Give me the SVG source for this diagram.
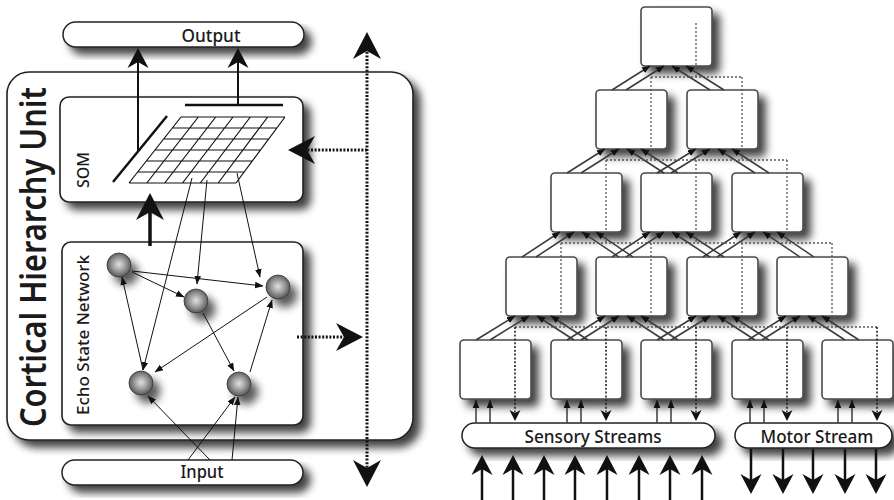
<svg xmlns="http://www.w3.org/2000/svg" width="894" height="500" viewBox="0 0 894 500">
  <defs>
    <filter id="shadow" x="-20%" y="-20%" width="150%" height="170%">
      <feGaussianBlur in="SourceAlpha" stdDeviation="4.5"/>
      <feOffset dx="7" dy="7" result="off"/>
      <feComponentTransfer><feFuncA type="linear" slope="0.75"/></feComponentTransfer>
      <feMerge><feMergeNode/><feMergeNode in="SourceGraphic"/></feMerge>
    </filter>
    <filter id="shadow-ball" x="-60%" y="-60%" width="280%" height="280%">
      <feGaussianBlur in="SourceAlpha" stdDeviation="4.5"/>
      <feOffset dx="7" dy="8" result="off"/>
      <feComponentTransfer><feFuncA type="linear" slope="0.65"/></feComponentTransfer>
      <feMerge><feMergeNode/><feMergeNode in="SourceGraphic"/></feMerge>
    </filter>
    <radialGradient id="ball" cx="50%" cy="48%" r="55%">
      <stop offset="0" stop-color="#e0e0e0"/>
      <stop offset="0.5" stop-color="#9c9c9c"/>
      <stop offset="1" stop-color="#4e4e4e"/>
    </radialGradient>
    <marker id="ah-s" markerUnits="userSpaceOnUse" markerWidth="10" markerHeight="8" viewBox="0 -4 10 8" refX="8" refY="0" orient="auto">
      <path d="M0,-3.3 L8.5,0 L0,3.3 Z" fill="#111"/>
    </marker>
    <marker id="ah-d" markerUnits="userSpaceOnUse" markerWidth="12" markerHeight="12" viewBox="0 -6 12 12" refX="7" refY="0" orient="auto">
      <path d="M0,-5.5 L11,0 L0,5.5 L3,0 Z" fill="#111"/>
    </marker>
    <marker id="ah-m" markerUnits="userSpaceOnUse" markerWidth="24" markerHeight="24" viewBox="0 -12 24 24" refX="13" refY="0" orient="auto">
      <path d="M0,-10.5 L20,0 L0,10.5 L6,0 Z" fill="#111"/>
    </marker>
    <marker id="ah-l" markerUnits="userSpaceOnUse" markerWidth="28" markerHeight="30" viewBox="0 -15 28 30" refX="18" refY="0" orient="auto-start-reverse">
      <path d="M0,-14 L27,0 L0,14 L8,0 Z" fill="#111"/>
    </marker>
    <style>
      .txt { font-family: "Noto Sans", "Liberation Sans", sans-serif; fill: #1a1a1a; }
      .frame { fill: #fff; stroke: #222; stroke-width: 1.6; }
      .pill { fill: #fff; stroke: #222; stroke-width: 1.5; }
      .box { fill: #fff; stroke: #4a4a4a; stroke-width: 1.6; }
      .grid { fill: none; stroke: #111; stroke-width: 1.2; }
      .bar { stroke: #111; stroke-width: 2.5; }
      .out { stroke: #111; stroke-width: 2; marker-end: url(#ah-m); }
      .thin { stroke: #111; stroke-width: 1; marker-end: url(#ah-s); }
      .fbl { fill: none; stroke: #111; stroke-width: 3; stroke-dasharray: 2 1.6; }
      .up { stroke: #3a3a3a; stroke-width: 1.5; marker-end: url(#ah-s); }
      .fb { fill: none; stroke: #555; stroke-width: 1.3; stroke-dasharray: 2 2; }
      .fbd { fill: none; stroke: #222; stroke-width: 1.6; stroke-dasharray: 2 1.8; marker-end: url(#ah-d); }
      .stream { stroke: #111; stroke-width: 2.5; marker-end: url(#ah-m); }
    </style>
  </defs>

  <!-- ===== Left: cortical hierarchy unit ===== -->
  <g id="output">
    <rect class="pill" x="63" y="22" width="241" height="25" rx="12.5" filter="url(#shadow)"/>
    <text class="txt" x="211" y="42" font-size="18" font-weight="500" text-anchor="middle" textLength="59" lengthAdjust="spacingAndGlyphs">Output</text>
  </g>

  <g id="unit">
    <rect class="frame" x="7" y="72" width="406" height="368" rx="22" filter="url(#shadow)"/>
    <text class="txt" transform="translate(46,257) rotate(-90)" font-size="36" font-weight="600" text-anchor="middle" textLength="340" lengthAdjust="spacingAndGlyphs">Cortical Hierarchy Unit</text>
  </g>

  <g id="som">
    <rect class="frame" x="60" y="97" width="243" height="105" rx="9" filter="url(#shadow)"/>
    <text class="txt" transform="translate(89,170) rotate(-90)" font-size="17" font-weight="500" text-anchor="middle" textLength="36" lengthAdjust="spacingAndGlyphs">SOM</text>
    <!-- 6x6 map, skewed -->
    <path class="grid" d="M181,117 H285 M172.3,128 H276.8 M163.7,139 H268.7 M155,150 H260.5 M146.3,161 H252.3 M137.7,172 H244.2 M129,183 H236
      M181,117 L129,183 M198.3,117 L146.8,183 M215.7,117 L164.7,183 M233,117 L182.5,183 M250.3,117 L200.3,183 M267.7,117 L218.2,183 M285,117 L236,183"/>
    <line class="bar" x1="113" y1="182" x2="167" y2="116"/>
    <line class="bar" x1="185" y1="105" x2="283" y2="105"/>
  </g>

  <g id="esn">
    <rect class="frame" x="62" y="242" width="241" height="183" rx="9" filter="url(#shadow)"/>
    <text class="txt" transform="translate(89,335) rotate(-90)" font-size="17" font-weight="500" text-anchor="middle" textLength="160" lengthAdjust="spacingAndGlyphs">Echo State Network</text>
  </g>

  <g id="esn-n1"><circle cx="119" cy="265" r="12" fill="url(#ball)" stroke="#333" stroke-width="0.8" filter="url(#shadow-ball)"/></g>
  <g id="esn-n2"><circle cx="196" cy="301" r="12" fill="url(#ball)" stroke="#333" stroke-width="0.8" filter="url(#shadow-ball)"/></g>
  <g id="esn-n3"><circle cx="278" cy="287" r="12" fill="url(#ball)" stroke="#333" stroke-width="0.8" filter="url(#shadow-ball)"/></g>
  <g id="esn-n4"><circle cx="141" cy="383" r="12" fill="url(#ball)" stroke="#333" stroke-width="0.8" filter="url(#shadow-ball)"/></g>
  <g id="esn-n5"><circle cx="239" cy="384" r="12" fill="url(#ball)" stroke="#333" stroke-width="0.8" filter="url(#shadow-ball)"/></g>

  <g id="input">
    <rect class="pill" x="62" y="460" width="241" height="25" rx="12.5" filter="url(#shadow)"/>
    <text class="txt" x="202" y="478" font-size="18" font-weight="500" text-anchor="middle" textLength="43" lengthAdjust="spacingAndGlyphs">Input</text>
  </g>

  <g id="unit-connectors">
    <!-- map outputs -->
    <line class="out" x1="138" y1="151" x2="138" y2="55"/>
    <line class="out" x1="238" y1="105" x2="238" y2="55"/>
    <!-- reservoir state into the map -->
    <line x1="150" y1="246" x2="150" y2="202" stroke="#111" stroke-width="3.5" marker-end="url(#ah-l)"/>
    <!-- map feedback into the reservoir -->
    <line class="thin" x1="192" y1="178" x2="143" y2="370"/>
    <line class="thin" x1="207" y1="180" x2="197" y2="284"/>
    <line class="thin" x1="237" y1="173" x2="260" y2="277"/>
    <!-- reservoir recurrences -->
    <line class="thin" x1="132" y1="271" x2="263" y2="286"/>
    <line class="thin" x1="132" y1="272" x2="184" y2="297"/>
    <line class="thin" x1="143" y1="370" x2="122" y2="277"/>
    <line class="thin" x1="267" y1="297" x2="155" y2="372"/>
    <line class="thin" x1="203" y1="313" x2="234" y2="371"/>
    <line class="thin" x1="250" y1="372" x2="272" y2="300"/>
    <!-- input drive -->
    <line class="thin" x1="210" y1="460" x2="148" y2="396"/>
    <line class="thin" x1="188" y1="460" x2="235" y2="397"/>
    <line class="thin" x1="232" y1="460" x2="238" y2="397"/>
    <!-- hierarchy up / down channel -->
    <path class="fbl" d="M367,41 V478" marker-start="url(#ah-l)" marker-end="url(#ah-l)"/>
    <path class="fbl" d="M367,150 H297" marker-end="url(#ah-l)"/>
    <path class="fbl" d="M297,337 H354" marker-end="url(#ah-l)"/>
  </g>

  <!-- ===== Right: hierarchy of units ===== -->
  <g id="r0-0"><rect class="box" x="641" y="7" width="71" height="59" rx="4" filter="url(#shadow)"/></g>
  <g id="r1-0"><rect class="box" x="596" y="90" width="71" height="59" rx="4" filter="url(#shadow)"/></g>
  <g id="r1-1"><rect class="box" x="687" y="90" width="71" height="59" rx="4" filter="url(#shadow)"/></g>
  <g id="r2-0"><rect class="box" x="551" y="173" width="71" height="59" rx="4" filter="url(#shadow)"/></g>
  <g id="r2-1"><rect class="box" x="641" y="173" width="71" height="59" rx="4" filter="url(#shadow)"/></g>
  <g id="r2-2"><rect class="box" x="732" y="173" width="71" height="59" rx="4" filter="url(#shadow)"/></g>
  <g id="r3-0"><rect class="box" x="506" y="257" width="71" height="59" rx="4" filter="url(#shadow)"/></g>
  <g id="r3-1"><rect class="box" x="596" y="257" width="71" height="59" rx="4" filter="url(#shadow)"/></g>
  <g id="r3-2"><rect class="box" x="687" y="257" width="71" height="59" rx="4" filter="url(#shadow)"/></g>
  <g id="r3-3"><rect class="box" x="777" y="257" width="71" height="59" rx="4" filter="url(#shadow)"/></g>
  <g id="r4-0"><rect class="box" x="460" y="340" width="71" height="59" rx="4" filter="url(#shadow)"/></g>
  <g id="r4-1"><rect class="box" x="551" y="340" width="71" height="59" rx="4" filter="url(#shadow)"/></g>
  <g id="r4-2"><rect class="box" x="641" y="340" width="71" height="59" rx="4" filter="url(#shadow)"/></g>
  <g id="r4-3"><rect class="box" x="732" y="340" width="71" height="59" rx="4" filter="url(#shadow)"/></g>
  <g id="r4-4"><rect class="box" x="822" y="340" width="71" height="59" rx="4" filter="url(#shadow)"/></g>

  <g id="sensory-streams">
    <rect class="pill" x="462" y="423" width="253" height="25" rx="12.5" filter="url(#shadow)"/>
    <text class="txt" x="593" y="443" font-size="18" font-weight="500" text-anchor="middle" textLength="137" lengthAdjust="spacingAndGlyphs">Sensory Streams</text>
  </g>
  <g id="motor-stream">
    <rect class="pill" x="735" y="423" width="157" height="25" rx="12.5" filter="url(#shadow)"/>
    <text class="txt" x="817" y="443" font-size="18" font-weight="500" text-anchor="middle" textLength="113" lengthAdjust="spacingAndGlyphs">Motor Stream</text>
  </g>

  <g id="hierarchy-connectors">
    <!-- bottom-up -->
    <line class="up" x1="612" y1="90" x2="650" y2="66"/><line class="up" x1="626" y1="90" x2="664" y2="66"/>
    <line class="up" x1="710" y1="90" x2="672" y2="66"/><line class="up" x1="724" y1="90" x2="686" y2="66"/>

    <line class="up" x1="567" y1="173" x2="605" y2="149"/><line class="up" x1="581" y1="173" x2="619" y2="149"/>
    <line class="up" x1="664" y1="173" x2="627" y2="149"/><line class="up" x1="678" y1="173" x2="641" y2="149"/>
    <line class="up" x1="657" y1="173" x2="696" y2="149"/><line class="up" x1="671" y1="173" x2="710" y2="149"/>
    <line class="up" x1="755" y1="173" x2="718" y2="149"/><line class="up" x1="769" y1="173" x2="732" y2="149"/>

    <line class="up" x1="522" y1="257" x2="560" y2="232"/><line class="up" x1="536" y1="257" x2="574" y2="232"/>
    <line class="up" x1="619" y1="257" x2="582" y2="232"/><line class="up" x1="633" y1="257" x2="596" y2="232"/>
    <line class="up" x1="612" y1="257" x2="650" y2="232"/><line class="up" x1="626" y1="257" x2="664" y2="232"/>
    <line class="up" x1="710" y1="257" x2="672" y2="232"/><line class="up" x1="724" y1="257" x2="686" y2="232"/>
    <line class="up" x1="703" y1="257" x2="741" y2="232"/><line class="up" x1="717" y1="257" x2="755" y2="232"/>
    <line class="up" x1="800" y1="257" x2="763" y2="232"/><line class="up" x1="814" y1="257" x2="777" y2="232"/>

    <line class="up" x1="476" y1="340" x2="515" y2="316"/><line class="up" x1="490" y1="340" x2="529" y2="316"/>
    <line class="up" x1="574" y1="340" x2="537" y2="316"/><line class="up" x1="588" y1="340" x2="551" y2="316"/>
    <line class="up" x1="567" y1="340" x2="605" y2="316"/><line class="up" x1="581" y1="340" x2="619" y2="316"/>
    <line class="up" x1="664" y1="340" x2="627" y2="316"/><line class="up" x1="678" y1="340" x2="641" y2="316"/>
    <line class="up" x1="657" y1="340" x2="696" y2="316"/><line class="up" x1="671" y1="340" x2="710" y2="316"/>
    <line class="up" x1="755" y1="340" x2="718" y2="316"/><line class="up" x1="769" y1="340" x2="732" y2="316"/>
    <line class="up" x1="748" y1="340" x2="786" y2="316"/><line class="up" x1="762" y1="340" x2="800" y2="316"/>
    <line class="up" x1="845" y1="340" x2="808" y2="316"/><line class="up" x1="859" y1="340" x2="822" y2="316"/>

    <!-- stream inputs into the lowest level -->
    <line class="up" x1="476" y1="423" x2="476" y2="400"/><line class="up" x1="490" y1="423" x2="490" y2="400"/>
    <line class="up" x1="567" y1="423" x2="567" y2="400"/><line class="up" x1="581" y1="423" x2="581" y2="400"/>
    <line class="up" x1="657" y1="423" x2="657" y2="400"/><line class="up" x1="671" y1="423" x2="671" y2="400"/>
    <line class="up" x1="750" y1="423" x2="750" y2="400"/><line class="up" x1="764" y1="423" x2="764" y2="400"/>
    <line class="up" x1="838" y1="423" x2="838" y2="400"/><line class="up" x1="852" y1="423" x2="852" y2="400"/>

    <!-- top-down feedback -->
    <path class="fb" d="M696,23 V77 M651,77 H742 M651,77 V160 M742,77 V160
      M606,160 H787 M606,160 V243 M696,160 V243 M787,160 V243
      M561,243 H832 M561,243 V327 M651,243 V327 M742,243 V327 M832,243 V327
      M515,327 H877"/>
    <path class="fbd" d="M515,327 V417"/>
    <path class="fbd" d="M606,327 V417"/>
    <path class="fbd" d="M696,327 V417"/>
    <path class="fbd" d="M787,327 V417"/>
    <path class="fbd" d="M877,327 V417"/>

    <!-- sensory inputs -->
    <line class="stream" x1="482" y1="500" x2="482" y2="462"/>
    <line class="stream" x1="513" y1="500" x2="513" y2="462"/>
    <line class="stream" x1="544" y1="500" x2="544" y2="462"/>
    <line class="stream" x1="575" y1="500" x2="575" y2="462"/>
    <line class="stream" x1="607" y1="500" x2="607" y2="462"/>
    <line class="stream" x1="639" y1="500" x2="639" y2="462"/>
    <line class="stream" x1="670" y1="500" x2="670" y2="462"/>
    <line class="stream" x1="702" y1="500" x2="702" y2="462"/>
    <!-- motor outputs -->
    <line class="stream" x1="751" y1="449" x2="751" y2="487"/>
    <line class="stream" x1="783" y1="449" x2="783" y2="487"/>
    <line class="stream" x1="813" y1="449" x2="813" y2="487"/>
    <line class="stream" x1="845" y1="449" x2="845" y2="487"/>
    <line class="stream" x1="876" y1="449" x2="876" y2="487"/>
  </g>
</svg>
